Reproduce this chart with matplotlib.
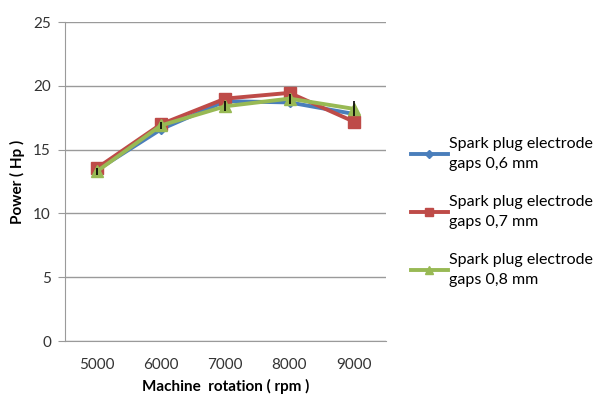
import matplotlib
matplotlib.use("Agg")
import matplotlib.pyplot as plt
import numpy as np

rpm = ["5000", "6000", "7000", "8000", "9000"]
gap06 = [13.4, 16.6, 18.8, 18.7, 17.8]
gap07 = [13.55, 17.0, 19.0, 19.45, 17.2]
gap08 = [13.3, 16.9, 18.4, 19.0, 18.2]
err08 = [0.3, 0.3, 0.4, 0.4, 0.6]
labels = ["Spark plug electrode\ngaps 0,6 mm",
          "Spark plug electrode\ngaps 0,7 mm",
          "Spark plug electrode\ngaps 0,8 mm"]
colors = ["#4a7ebb", "#be4b48", "#98b954"]

plt.rcParams['font.family'] = ['Lato', 'DejaVu Sans']
fig = plt.figure(figsize=(6, 4.08), dpi=100)
ax = fig.add_axes([0.108, 0.164, 0.535, 0.782])
x = np.arange(len(rpm))
ax.plot(x, gap06, color=colors[0], lw=2.8, marker='D', ms=5, label=labels[0])
ax.plot(x, gap07, color=colors[1], lw=2.8, marker='s', ms=8, label=labels[1])
ax.plot(x, gap08, color=colors[2], lw=2.8, marker='^', ms=8, label=labels[2])
ax.errorbar(x, gap08, yerr=err08, fmt='none', ecolor='black', elinewidth=1.2, capsize=0)

ax.set_xlim(-0.5, 4.5)
ax.set_ylim(0, 25)
ax.set_yticks([0, 5, 10, 15, 20, 25])
ax.set_xticks(x)
ax.set_xticklabels(rpm)
ax.grid(axis='y', color='#9a9a9a', lw=1)
ax.set_axisbelow(True)
for s in ['top', 'right']:
    ax.spines[s].set_visible(False)
for s in ['left', 'bottom']:
    ax.spines[s].set_color('#9a9a9a')
ax.tick_params(axis='y', length=5, color='#9a9a9a', labelsize=11, labelcolor='#333333', pad=5)
ax.tick_params(axis='x', length=0, labelsize=11, labelcolor='#333333', pad=12)
ax.set_xlabel("Machine  rotation ( rpm )", fontsize=11, fontweight='bold', labelpad=5)
ax.set_ylabel("Power ( Hp )", fontsize=11, fontweight='bold', labelpad=6)

leg = fig.legend(loc='center left', bbox_to_anchor=(0.685, 0.48), frameon=False,
                 fontsize=11.5, handlelength=2.3, handletextpad=0.05, labelspacing=1.5,
                 markerscale=0.8, borderaxespad=0, borderpad=0)
for t in leg.get_texts():
    t.set_linespacing(1.55)
fig.savefig("out.png", dpi=100)
